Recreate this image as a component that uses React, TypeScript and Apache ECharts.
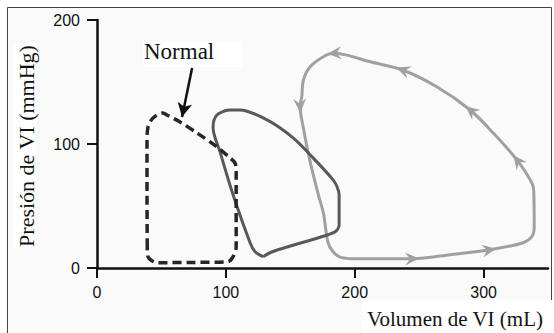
import React, { useEffect, useRef } from "react";
import * as echarts from "echarts";

const xTicks = [0, 100, 200, 300];
const yTicks = [0, 100, 200];

// Normal loop (dashed) [volume mL, pressure mmHg]
const normalLoop: number[][] = [
  [39, 17], [38.8, 60], [38.8, 101], [39.6, 113.8], [43.5, 121], [51.2, 125],
  [54.3, 123.4], [64.4, 117.8], [77.6, 108.9], [93.2, 97.6], [103.3, 88.8],
  [107.1, 84.8], [108, 79], [108, 17], [105.6, 9.1], [101.7, 5.1], [75, 4.5],
  [46.6, 4.3], [39.6, 9.1], [39, 17],
];

// Dark gray loop
const darkLoop: number[][] = [
  [128.9, 9.1], [122.7, 13.1], [118.8, 20.4], [105.6, 59], [95.5, 93.6],
  [90.1, 113], [90.8, 119.4], [93.9, 124.2], [103.3, 127.5], [111, 127.5],
  [132, 119.4], [152.2, 104.9], [167.7, 88.8], [183.2, 71.1], [186.3, 65.5],
  [187.9, 59], [187.9, 34.9], [184.8, 29.2], [175.5, 25.6], [144.4, 15.9],
  [134.3, 12.3], [128.9, 9.1],
];

// Light gray loop (with arrows)
const lightLoop: number[][] = [
  [196.4, 7.5], [245.3, 7.5], [274.1, 10.7], [305.1, 14.7], [330.7, 20.4],
  [337.5, 25.4], [339.3, 33.5], [338.9, 63], [336.2, 71.1], [325.9, 87.2],
  [307.5, 108.9], [289.6, 127.4], [263.7, 146.2], [236.6, 159.9], [212, 166.3],
  [193.9, 171.7], [183.5, 173.1], [175.7, 170.4], [165.4, 162.3], [160.2, 151.6],
  [158.9, 138.2], [157.6, 130.1], [160.2, 112.7], [165.4, 85.8], [171.8, 59],
  [175.7, 44.3], [179.3, 20.4], [183.2, 13.1], [188.7, 8.7], [196.4, 7.5],
];
const lightArrowIdx = [1, 3, 9, 11, 13, 16, 21];

// Pointer from "Normal" label to dashed loop
const normalPointer: number[][] = [[73.8, 161.3], [66, 121.8]];

export default function App() {
  const ref = useRef<HTMLDivElement>(null);
  useEffect(() => {
    const chart = echarts.init(ref.current!, null, { renderer: "svg" });
    const arrowData = lightArrowIdx.map((i) => [
      lightLoop[i][0], lightLoop[i][1],
      lightLoop[i - 1][0], lightLoop[i - 1][1],
      lightLoop[i + 1][0], lightLoop[i + 1][1],
    ]);
    const axisColor = "#111";
    chart.setOption({
      animation: false,
      backgroundColor: "#fafafa",
      grid: { left: 97, right: 6, top: 20, bottom: 65 },
      xAxis: {
        type: "value",
        min: 0,
        max: 350,
        interval: 100,
        axisLine: { show: true, onZero: false, lineStyle: { color: axisColor, width: 2.5 } },
        axisTick: { show: true, length: 10, customValues: xTicks, lineStyle: { color: axisColor, width: 2 } },
        axisLabel: {
          customValues: xTicks,
          margin: 16,
          fontFamily: "Liberation Sans",
          fontSize: 16,
          color: "#111",
        },
        splitLine: { show: false },
      },
      yAxis: {
        type: "value",
        min: 0,
        max: 200,
        interval: 100,
        axisLine: { show: true, onZero: false, lineStyle: { color: axisColor, width: 2.5 } },
        axisTick: { show: true, length: 10, customValues: yTicks, lineStyle: { color: axisColor, width: 2 } },
        axisLabel: {
          customValues: yTicks,
          margin: 17,
          fontFamily: "Liberation Sans",
          fontSize: 16,
          color: "#111",
        },
        splitLine: { show: false },
      },
      series: [
        {
          type: "line",
          name: "Normal",
          data: normalLoop,
          symbol: "none",
          smooth: 0.3,
          lineStyle: { color: "#262626", width: 3.5, type: [9, 5] },
          markLine: {
            silent: true,
            symbol: ["none", "arrow"],
            symbolSize: [11, 14],
            label: { show: false },
            lineStyle: { type: "solid", color: "#111", width: 2.5 },
            data: [[{ coord: normalPointer[0] }, { coord: normalPointer[1] }]],
          },
          z: 4,
        },
        {
          type: "line",
          name: "B",
          data: darkLoop,
          symbol: "none",
          smooth: 0.3,
          lineStyle: { color: "#595959", width: 3 },
          z: 3,
        },
        {
          type: "line",
          name: "C",
          data: lightLoop,
          symbol: "none",
          smooth: 0.3,
          lineStyle: { color: "#a0a0a0", width: 3 },
          z: 2,
        },
        {
          type: "custom",
          name: "arrows",
          dimensions: ["x", "y", "px", "py", "nx", "ny"],
          encode: { x: "x", y: "y" },
          data: arrowData,
          z: 2,
          renderItem: (params: any, api: any) => {
            const tip = api.coord([api.value(0), api.value(1)]);
            const p = api.coord([api.value(2), api.value(3)]);
            const n = api.coord([api.value(4), api.value(5)]);
            const dx = n[0] - p[0];
            const dy = n[1] - p[1];
            const len = Math.hypot(dx, dy) || 1;
            const ux = dx / len;
            const uy = dy / len;
            const vx = -uy;
            const vy = ux;
            const L = 14, W = 6.5, N = 5;
            const t = [tip[0] + ux * 6, tip[1] + uy * 6];
            const pts = [
              t,
              [t[0] - ux * L + vx * W, t[1] - uy * L + vy * W],
              [t[0] - ux * (L - N), t[1] - uy * (L - N)],
              [t[0] - ux * L - vx * W, t[1] - uy * L - vy * W],
            ];
            return { type: "polygon", shape: { points: pts }, style: { fill: "#a0a0a0" } };
          },
        },
      ],
      graphic: [
        { type: "rect", shape: { x: 0, y: 0, width: 7, height: 333 }, style: { fill: "#fff" }, silent: true },
        { type: "rect", shape: { x: 0, y: 0, width: 554, height: 7 }, style: { fill: "#fff" }, silent: true },
        { type: "rect", shape: { x: 552, y: 0, width: 2, height: 333 }, style: { fill: "#fff" }, silent: true },
        {
          type: "rect",
          shape: { x: 7.5, y: 7.5, width: 544, height: 340 },
          style: { fill: "none", stroke: "#444", lineWidth: 1 },
          silent: true,
        },
        { type: "rect", shape: { x: 143, y: 41, width: 99, height: 26 }, style: { fill: "#fff" }, silent: true },
        { type: "rect", shape: { x: 13, y: 43, width: 23, height: 205 }, style: { fill: "#fff" }, silent: true },
        { type: "rect", shape: { x: 362, y: 300, width: 190, height: 33 }, style: { fill: "#fff" }, silent: true },
        {
          type: "text",
          x: 144,
          y: 51,
          style: {
            text: "Normal",
            font: '23px "Liberation Serif"',
            fill: "#111",
            align: "left",
            verticalAlign: "middle",
          },
        },
        {
          type: "text",
          x: 26,
          y: 146,
          rotation: Math.PI / 2,
          style: {
            text: "Presión de VI (mmHg)",
            font: '22px "Liberation Serif"',
            fill: "#111",
            align: "center",
            verticalAlign: "middle",
          },
        },
        {
          type: "text",
          x: 543,
          y: 319,
          style: {
            text: "Volumen de VI (mL)",
            font: '21px "Liberation Serif"',
            fill: "#111",
            align: "right",
            verticalAlign: "middle",
          },
        },
      ],
    });
    return () => chart.dispose();
  }, []);
  return (
    <div
      ref={ref}
      style={{ position: "fixed", left: 0, top: 0, width: 554, height: 333 }}
    />
  );
}
